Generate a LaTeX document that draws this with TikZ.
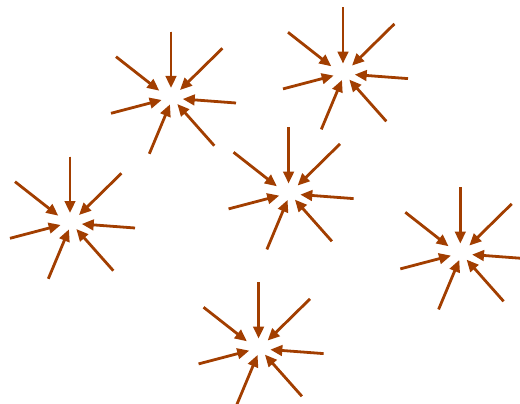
\documentclass[tikz,border=0pt]{standalone}
\usetikzlibrary{arrows.meta,calc}
\definecolor{rust}{RGB}{162,62,0}
\begin{document}
\begin{tikzpicture}[x=1pt,y=-1pt,
  arr/.style={draw=rust, line width=2.8pt, -{Triangle[length=12pt,width=10.5pt]}, fill=rust}]
\useasboundingbox (0,0) rectangle (520,404);
\foreach \n/\cx/\cy in {a/171/97, b/70/222, c/343/72.6, d/288.6/192.6, e/460.3/252.6, f/258.6/347.6} {
  \coordinate (\n) at (\cx,\cy);
  \foreach \k/\tx/\ty/\hx/\hy in {1/0/-65.3/0/-9, 2/51.4/-48.7/9/-7, 3/65/6/11.7/2, 4/43.3/48.7/6.3/7, 5/-21.7/56.8/-1/7.3, 6/-60/16.3/-9.3/3, 7/-55/-40.3/-11.7/-6.3} {
    \coordinate (\n t\k) at ($(\n)+(\tx,\ty)$);
    \coordinate (\n h\k) at ($(\n)+(\hx,\hy)$);
    \draw[arr] (\n t\k) -- (\n h\k);
  }
}
\end{tikzpicture}
\end{document}
